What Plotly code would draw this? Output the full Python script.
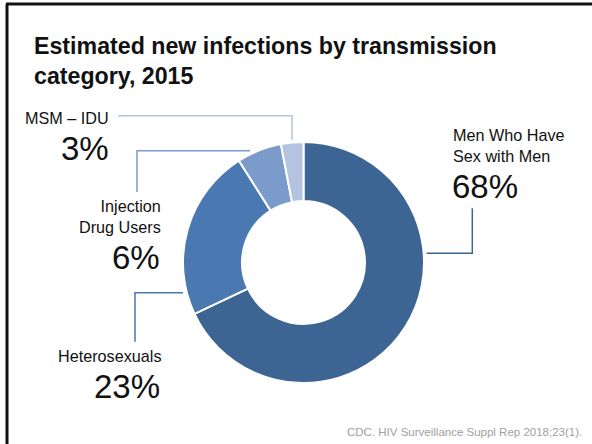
import plotly.graph_objects as go

# data
categories = ["Men Who Have Sex with Men", "Heterosexuals", "Injection Drug Users", "MSM – IDU"]
shares = [68, 23, 6, 3]
slice_colors = ["#3D6594", "#4A78B0", "#7B9BCB", "#B4C3E0"]

W, H = 592, 444
FONT = "Liberation Sans, Arial, sans-serif"

# donut centre / radius in pixels (from top-left)
cx, cy, r = 303.5, 262.5, 120.5

fig = go.Figure()
fig.add_trace(go.Pie(
    labels=categories, values=shares, sort=False, direction="clockwise",
    rotation=0, hole=0.51, textinfo="none", hoverinfo="label+percent",
    marker=dict(colors=slice_colors, line=dict(color="white", width=2)),
    domain=dict(x=[(cx - r) / W, (cx + r) / W],
                y=[(H - cy - r) / H, (H - cy + r) / H]),
    showlegend=False,
))

# leader lines: (points, colour) in pixel coords
leaders = [
    ([(118, 115.7), (292, 115.7), (292, 140)], slice_colors[3]),
    ([(137, 192), (137, 150.7), (250, 150.7)], slice_colors[2]),
    ([(183, 292.7), (135, 292.7), (135, 341.7)], slice_colors[1]),
    ([(426.7, 253.3), (472.3, 253.3), (472.3, 208.3)], slice_colors[0]),
]
shapes = []
for pts, col in leaders:
    path = "M " + " L ".join(f"{x},{y}" for x, y in pts)
    shapes.append(dict(type="path", path=path, xref="x", yref="y",
                       line=dict(color=col, width=1.5)))

# slide frame
shapes.append(dict(type="line", xref="x", yref="y", x0=6, x1=592, y0=4, y1=4,
                   line=dict(color="#111", width=3)))
shapes.append(dict(type="line", xref="x", yref="y", x0=7, x1=7, y0=4, y1=444,
                   line=dict(color="#111", width=3)))

pct = [f"{v}%" for v in shares]
ann = []


def txt(x, y, s, size, anchor="left", color="#111", bold=False, align="left"):
    if bold:
        s = f"<b>{s}</b>"
    ann.append(dict(x=x, y=y, xref="x", yref="y", text=s, showarrow=False,
                    xanchor=anchor, yanchor="middle", align=align,
                    font=dict(family=FONT, size=size, color=color)))


txt(32, 61, "Estimated new infections by transmission<br>category, 2015", 23.2, bold=True)

txt(111, 118, categories[3], 16.2, anchor="right")
txt(111, 148, pct[3], 33, anchor="right")

txt(163, 216, "Injection<br>Drug Users", 16.2, anchor="right", align="right")
txt(162, 257, pct[2], 33, anchor="right")

txt(163, 356, categories[1], 16.2, anchor="right")
txt(162, 386.7, pct[1], 33, anchor="right")

txt(451, 145, "Men Who Have<br>Sex with Men", 16.2)
txt(450, 186.7, pct[0], 33)

txt(584, 431.7, "CDC. HIV Surveillance Suppl Rep 2018;23(1).", 11.5, anchor="right", color="#A0A0A0")

fig.update_layout(
    width=W, height=H, margin=dict(l=0, r=0, t=0, b=0),
    paper_bgcolor="white", plot_bgcolor="rgba(0,0,0,0)",
    xaxis=dict(range=[0, W], visible=False, fixedrange=True, domain=[0, 1]),
    yaxis=dict(range=[H, 0], visible=False, fixedrange=True, domain=[0, 1]),
    shapes=shapes, annotations=ann,
)

fig.write_html("out.html", config={"displayModeBar": False},
               post_script="document.body.style.margin='0';document.body.style.overflow='hidden';")
